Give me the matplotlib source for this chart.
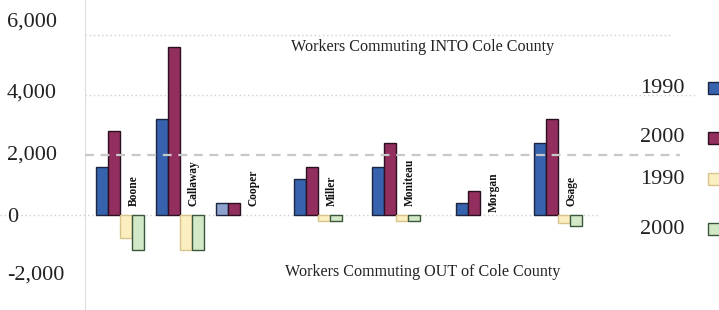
import matplotlib
matplotlib.use('Agg')
from matplotlib import pyplot as plt
from matplotlib.patches import Rectangle
from matplotlib.transforms import offset_copy
import numpy as np

plt.rcParams['font.family'] = 'Liberation Serif'

counties = ['Boone', 'Callaway', 'Cooper', 'Miller', 'Moniteau', 'Morgan', 'Osage']
into_1990 = [1600, 3200, 400, 1200, 1600, 400, 2400]
into_2000 = [2800, 5600, 400, 1600, 2400, 800, 3200]
out_1990 = [-780, -1180, 0, -200, -200, 0, -260]
out_2000 = [-1180, -1180, 0, -200, -200, 0, -380]
legend_labels = ['1990', '2000', '1990', '2000']
yticks = [-2000, 0, 2000, 4000, 6000]
ytick_labels = ['-2,000', '0', '2,000', '4,000', '6,000']

# layout: group positions (in group-spacing units), uneven like the original
group_pos = np.array([0, 1, 2, 3.3, 4.6, 6.0, 7.3])
w = 0.2

c_blue = '#3762ae'
c_maroon = '#932f5e'
c_yellow = '#fbeec0'
c_green = '#d2e8c6'

fig = plt.figure(figsize=(7.19, 3.10), dpi=100)
ax = fig.add_axes([85/719, 0, 634/719, 1])
ax.set_xlim(-0.1833, 10.383)
ax.set_ylim(-3167, 7167)

def nz(vals):
    # empty bars are not drawn at all
    return np.where(np.array(vals) == 0, np.nan, vals)

blue_cols = [c_blue]*len(counties)
blue_cols[2] = '#8fa2cf'
ax.bar(group_pos + 0.5*w, into_1990, w, color=blue_cols, edgecolor='#1c2540', linewidth=1, zorder=2)
ax.bar(group_pos + 1.5*w, into_2000, w, color=c_maroon, edgecolor='#2a1020', linewidth=1, zorder=2)
ax.bar(group_pos + 2.5*w, nz(out_1990), w, color=c_yellow, edgecolor='#d8c58c', linewidth=1, zorder=2)
ax.bar(group_pos + 3.5*w, nz(out_2000), w, color=c_green, edgecolor='#3b573b', linewidth=1, zorder=2)

for i, name in enumerate(counties):
    yb = 100 if name == 'Morgan' else 300
    ax.text(group_pos[i] + 0.633, yb, name, rotation=90, ha='center', va='bottom',
            fontsize=8.3, fontweight='bold', color='#111111', zorder=3)

# gridlines
ax.axhline(6000, xmin=0, xmax=0.926, color='#d0d0d0', ls=(0, (1, 2)), lw=1, zorder=1)
ax.axhline(4000, xmin=0, xmax=0.965, color='#d0d0d0', ls=(0, (1, 2)), lw=1, zorder=1)
ax.axhline(2000, xmin=0, xmax=0.938, color='#c8c8c8', ls=(0, (4, 3)), lw=1.6, zorder=4)
ax.plot([-1.6, 8.4], [0, 0], color='#cfcfcf', ls=(0, (1, 2)), lw=1, zorder=1, clip_on=False)

ax.text(5.45, 5600, 'Workers Commuting INTO Cole County', ha='center', va='center',
        fontsize=11.6, color='#222222')
ax.text(5.45, -1900, 'Workers Commuting OUT of Cole County', ha='center', va='center',
        fontsize=11.6, color='#222222')

# y labels: left aligned, a bit above their gridlines like the original
ax.set_yticks(yticks)
ax.set_yticklabels([])
ax.tick_params(axis='y', length=0)
lab_shift = [0, -2, 0, 1.5, 9]   # points
for v, lab, dy in zip(yticks, ytick_labels, lab_shift):
    tr = offset_copy(ax.get_yaxis_transform(), fig=fig, x=0, y=dy, units='points')
    ax.text(-78/634, v, lab, transform=tr, ha='left', va='center', fontsize=16,
            color='#222222', clip_on=False)
ax.set_xticks([])
for s in ['top', 'right', 'bottom']:
    ax.spines[s].set_visible(False)
ax.spines['left'].set_color('#dddddd')

# legend drawn by hand
leg_y = [88, 138, 179, 229]
leg_cols = [(c_blue, '#1c2540'), (c_maroon, '#2a1020'), (c_yellow, '#d8c58c'), (c_green, '#3b573b')]
for lab, yy, (fc, ec) in zip(legend_labels, leg_y, leg_cols):
    fig.text(640/719, 1 - yy/310, lab, ha='left', va='center', fontsize=16, color='#222222')
    fig.patches.append(Rectangle((708/719, 1 - (yy + 6)/310), 14/719, 12/310,
                                 transform=fig.transFigure, facecolor=fc, edgecolor=ec,
                                 linewidth=1, figure=fig))

fig.savefig('out.png', dpi=100)
